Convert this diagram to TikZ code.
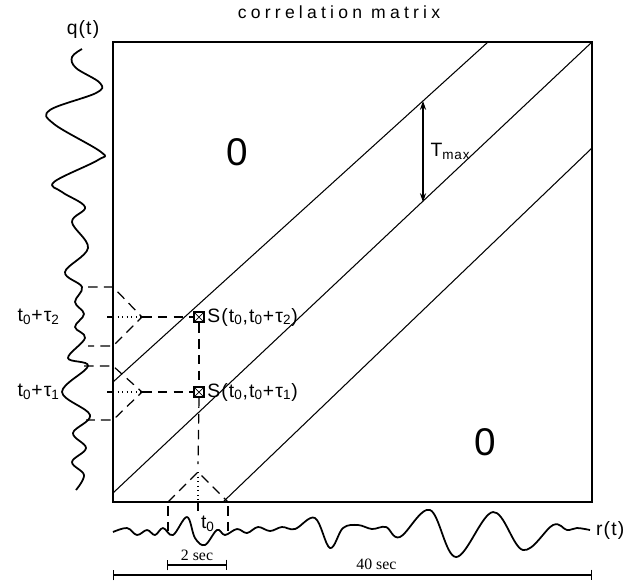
\documentclass[tikz,border=0pt]{standalone}
\usepackage{fontspec}
\setmainfont{Liberation Sans}
\newfontfamily\notefont{Liberation Serif}
\usetikzlibrary{arrows.meta}

\tikzset{
  lbl/.style={inner sep=1pt,font=\fontsize{11}{13}\selectfont\addfontfeature{LetterSpace=6}},
  zero/.style={font=\fontsize{22}{24}\selectfont},
  note/.style={inner sep=1pt,font=\notefont\fontsize{9}{10}\selectfont},
  wave/.style={line width=1pt,line join=round,smooth,tension=0.6},
  guide/.style={line width=0.7pt,dash pattern=on 5.5pt off 3.5pt},
  cell/.style={draw,line width=1pt,minimum size=6pt,inner sep=0pt,fill=white,
    path picture={\draw[line width=0.4pt] (path picture bounding box.north west) -- (path picture bounding box.south east)
      (path picture bounding box.north east) -- (path picture bounding box.south west);}}
}

\begin{document}
\begin{tikzpicture}[x=0.02cm,y=-0.02cm]
    \useasboundingbox (0,0) rectangle (638,582);
    % matrix frame
    \coordinate (nw) at (113,42);
    \coordinate (se) at (592,502);
    \draw[line width=1.1pt] (nw) rectangle (se);
    \node[lbl,font=\fontsize{10}{12}\selectfont\addfontfeature{LetterSpace=24}] (title) at (339,12) {correlation matrix};
    % band of the diagonal
    \draw[line width=0.6pt] (113,382) -- (488,42);
    \draw[line width=0.6pt] (113,493) -- (se |- nw);
    \draw[line width=0.6pt] (223,502) -- (592,148);
    \coordinate (tmaxtop) at (423,101);
    \coordinate (tmaxbot) at (423,202);
    \draw[{Stealth[length=5pt,width=3.5pt]}-{Stealth[length=5pt,width=3.5pt]},line width=0.6pt] (tmaxtop) -- (tmaxbot)
        node[midway,right=3pt,lbl] (tmax) {T\textsubscript{max}};
    \node[zero] (zeroa) at (237,152) {0};
    \node[zero] (zerob) at (485,442) {0};
    % q(t) trace
    \draw[wave] plot coordinates {(82,49) (72,57) (76,68) (100,83) (96,93) (50,110) (54,124)
        (101,152) (98,160) (54,182) (62,192) (85,207) (72,222) (88,248) (65,272) (82,287)
        (75,302) (84,314) (75,327) (85,338) (68,358) (88,366) (62,392) (90,415) (73,433)
        (86,448) (72,462) (84,475) (76,490)};
    \node[lbl] (qlab) at (83,29) {q(t)};
    % r(t) trace
    \draw[wave] plot coordinates {(113,532) (127,528) (137,535) (147,530) (155,535) (163,528)
        (173,535) (187,517) (195,538) (205,545) (217,530) (225,535) (237,529) (247,533)
        (258,527) (270,531) (282,527) (295,529) (315,518) (330,548) (343,528) (358,525)
        (372,529) (386,527) (400,537) (430,510) (456,557) (493,512) (523,550) (553,525)
        (567,530) (577,528) (590,530)};
    \node[lbl,anchor=west] (rlab) at (594,530) {r(t)};
    % correlation cells
    \node[cell] (s2) at (199,317) {};
    \node[cell] (s1) at (199,392) {};
    \node[lbl,anchor=west] (s2lab) at (s2.east) {S(t\textsubscript{0},t\textsubscript{0}+τ\textsubscript{2})};
    \node[lbl,anchor=west] (s1lab) at (s1.east) {S(t\textsubscript{0},t\textsubscript{0}+τ\textsubscript{1})};
    % windows on q(t)
    \coordinate (a2) at (142,317);
    \coordinate (a1) at (142,392);
    \draw[guide] (88,287) -- (113,287) -- (a2) -- (113,346) -- (88,346);
    \draw[guide] (84,366) -- (113,366) -- (a1) -- (113,420) -- (86,420);
    \draw[guide] (a2) -- (s2.west);
    \draw[guide] (a1) -- (s1.west);
    \draw[dotted,line width=0.6pt] (113,317) -- (a2);
    \draw[dotted,line width=0.6pt] (113,392) -- (a1);
    \draw[line width=0.6pt] (107,317) -- (113,317);
    \draw[line width=0.6pt] (107,392) -- (113,392);
    \node[lbl,anchor=east] (tau2) at (62,317) {t\textsubscript{0}+τ\textsubscript{2}};
    \node[lbl,anchor=east] (tau1) at (62,392) {t\textsubscript{0}+τ\textsubscript{1}};
    % window on r(t)
    \coordinate (a0) at (198,472);
    \draw[guide] (168,502) -- (a0) -- (228,502);
    \draw[guide] (s2.south) -- (s1.north);
    \draw[guide] (s1.south) -- (198,464);
    \draw[dotted,line width=0.6pt] (a0) -- (198,502);
    \draw[line width=0.6pt] (198,502) -- (198,511);
    \draw[guide] (168,506) -- (168,534);
    \draw[guide] (228,506) -- (228,534);
    \node[lbl,anchor=west] (tzero) at (199,524) {t\textsubscript{0}};
    % time scales
    \draw[{Bar[width=6pt]}-{Bar[width=6pt]},line width=0.6pt] (167,565) -- (227,565)
        node[midway,above=1pt,note] (twosec) {2 sec};
    \draw[{Bar[width=6pt]}-{Bar[width=6pt]},line width=0.6pt] (113,575) -- (592,575)
        node[pos=0.55,above=2pt,note] (fortysec) {40 sec};
\end{tikzpicture}
\end{document}
